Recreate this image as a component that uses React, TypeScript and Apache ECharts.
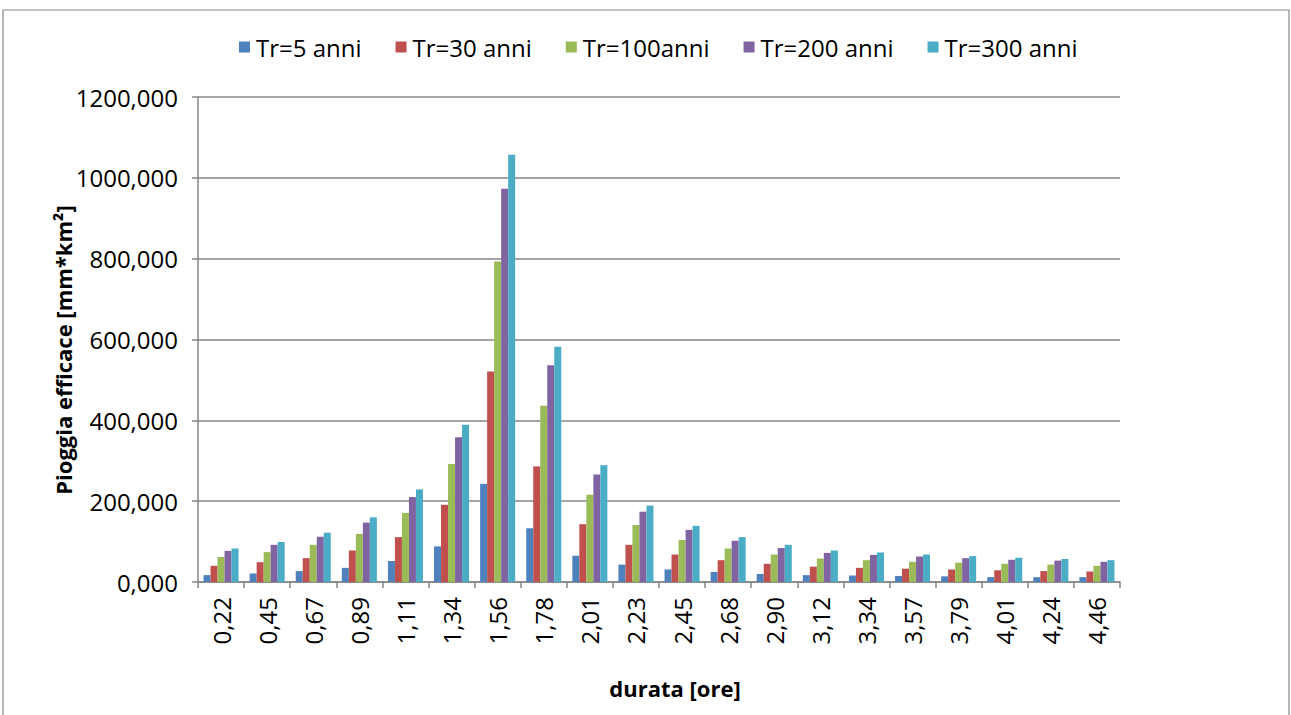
import React, { useEffect, useRef } from "react";
import * as echarts from "echarts";

const categories = ["0,22","0,45","0,67","0,89","1,11","1,34","1,56","1,78","2,01","2,23","2,45","2,68","2,90","3,12","3,34","3,57","3,79","4,01","4,24","4,46"];
const seriesNames = ["Tr=5 anni", "Tr=30 anni", "Tr=100anni", "Tr=200 anni", "Tr=300 anni"];
const tr5 = [17, 21, 27, 35, 52, 88, 243, 133, 65, 43, 31, 25, 20, 17, 16, 15, 14, 12, 12, 12];
const tr30 = [40, 49, 59, 78, 111, 191, 521, 286, 143, 92, 68, 54, 45, 38, 35, 33, 31, 29, 27, 26];
const tr100 = [62, 74, 92, 119, 171, 292, 793, 436, 216, 141, 104, 83, 68, 58, 54, 50, 48, 45, 43, 40];
const tr200 = [77, 92, 112, 147, 210, 358, 973, 536, 266, 174, 129, 102, 84, 72, 67, 63, 59, 55, 53, 50];
const tr300 = [83, 99, 122, 160, 229, 389, 1057, 582, 289, 189, 139, 111, 92, 78, 73, 68, 64, 60, 57, 54];
const colors = ["#4F81BD", "#C0504D", "#9BBB59", "#8064A2", "#4BACC6"];
const yTitle = "Pioggia efficace [mm*km²]";
const xTitle = "durata [ore]";

const FONT = "'Open Sans', 'Noto Sans', sans-serif";
const FS = 24;

export default function App() {
  const ref = useRef<HTMLDivElement>(null);
  useEffect(() => {
    if (!ref.current) return;
    const chart = echarts.init(ref.current, undefined, { renderer: "svg" });
    const data = [tr5, tr30, tr100, tr200, tr300];
    chart.setOption({
      animation: false,
      color: colors,
      textStyle: { fontFamily: FONT },
      legend: {
        left: 234,
        top: 30,
        itemWidth: 11,
        itemHeight: 11,
        itemGap: 34,
        icon: "rect",
        textStyle: { fontFamily: FONT, fontSize: FS, color: "#000", padding: [0, 0, 0, 1] },
        data: seriesNames,
      },
      grid: { left: 198, right: 171, top: 97, bottom: 133, containLabel: false },
      xAxis: {
        type: "category",
        data: categories,
        boundaryGap: true,
        axisLine: { lineStyle: { color: "#868686", width: 1.5 } },
        axisTick: { show: true, length: 6, interval: 0, lineStyle: { color: "#868686", width: 1.5 } },
        axisLabel: { rotate: 90, interval: 0, margin: 15, fontSize: FS, color: "#000", fontFamily: FONT },
        splitLine: { show: false },
      },
      yAxis: {
        type: "value",
        min: 0,
        max: 1200,
        interval: 200,
        axisLine: { show: true, lineStyle: { color: "#868686", width: 1.5 } },
        axisTick: { show: true, length: 6, lineStyle: { color: "#868686", width: 1.5 } },
        axisLabel: {
          margin: 20,
          fontSize: FS,
          color: "#000",
          fontFamily: FONT,
          formatter: (v: number) => v.toFixed(3).replace(".", ","),
        },
        splitLine: { show: true, lineStyle: { color: "#868686", width: 1.5 } },
      },
      series: seriesNames.map((name, i) => ({
        name,
        type: "bar",
        data: data[i],
        barGap: "0%",
        barCategoryGap: "24%",
        itemStyle: { color: colors[i] },
      })),
      graphic: [
        {
          type: "rect",
          shape: { x: 3, y: 10, width: 1286, height: 720 },
          style: { fill: "none", stroke: "#898989", lineWidth: 1.2 },
          silent: true,
        },
        {
          type: "text",
          x: 63,
          y: 350,
          rotation: Math.PI / 2,
          style: {
            text: yTitle,
            fontFamily: FONT,
            fontSize: 22,
            fontWeight: "bold",
            fill: "#000",
            textAlign: "center",
            textVerticalAlign: "middle",
          },
        },
        {
          type: "text",
          x: 675,
          y: 688,
          style: {
            text: xTitle,
            fontFamily: FONT,
            fontSize: 22,
            fontWeight: "bold",
            fill: "#000",
            textAlign: "center",
            textVerticalAlign: "middle",
          },
        },
      ],
    });
    return () => chart.dispose();
  }, []);
  return (
    <div
      ref={ref}
      style={{ position: "absolute", left: 0, top: 0, width: 1291, height: 715, background: "#fff" }}
    />
  );
}
